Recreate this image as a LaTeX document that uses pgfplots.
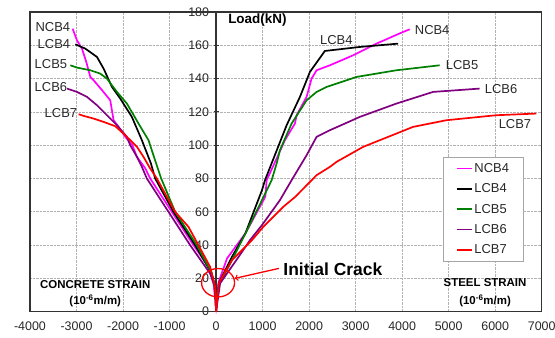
\documentclass[border=0pt]{standalone}
\usepackage{pgfplots}
\pgfplotsset{compat=1.18}
\usepackage{fontspec}
\setmainfont{Liberation Sans}
\definecolor{cMag}{RGB}{255,0,255}
\definecolor{cGreen}{RGB}{0,128,0}
\definecolor{cPurp}{RGB}{128,0,128}
\definecolor{cRed}{RGB}{255,0,0}
\definecolor{cTxt}{RGB}{40,40,40}
\newcommand{\lblfont}{\fontsize{13}{15}\selectfont}
\newcommand{\bfl}{\fontsize{11.5}{13}\selectfont\bfseries}
\begin{document}
\begin{tikzpicture}
\useasboundingbox (-30bp,-26.3bp) rectangle (525bp,311.7bp);
\begin{axis}[
  scale only axis, width=511.7bp, height=299.7bp,
  xmin=-4000, xmax=7000, ymin=0, ymax=180,
  axis x line=bottom, axis y line=middle,
  axis line style={-, line width=1.3bp, color=black!80},
  xtick={-4000,-3000,...,7000}, ytick={0,20,...,180},
  hide obscured x ticks=false, hide obscured y ticks=false,
  xtick style={draw=none},
  ytick style={line width=0.8bp, color=black!80},
  major tick length=5bp,
  grid=major, grid style={densely dotted, gray!60, line width=0.6bp},
  tick label style={font=\fontsize{12.5}{14}\selectfont, text=cTxt},
  /pgf/number format/assume math mode=true,
  /pgf/number format/set thousands separator={},
  xticklabel style={yshift=-4bp},
  yticklabel style={xshift=-1bp},
  every axis plot/.append style={line width=1.7bp},
  legend style={at={(rel axis cs:0.808,0.516)}, anchor=north west,
    draw=gray!70, line width=0.6bp, font=\lblfont, text=cTxt,
    inner xsep=12bp, inner ysep=4bp, row sep=5.8bp, cells={anchor=west}},
  legend image code/.code={\draw[#1, line width=1.7bp] (0bp,0bp) -- (15bp,0bp);},
  clip=false,
]
\draw[line width=1.3bp, black!80] (rel axis cs:0,0) rectangle (rel axis cs:1,1);
% NCB4
\addplot[cMag] coordinates {
(-3084,170) (-2990,163) (-2883,158) (-2790,150) (-2704,141) (-2633,139) (-2450,133) (-2275,127) (-2203,115) (-2096,111) (-1950,105) (-1800,100) (-1702,93) (-1520,86) (-1416,80) (-952,60) (-487,40) (-165,27) (-57,17) (0,3)
(57,18) (236,32) (630,47) (1058,69) (1088,79) (1302,92) (1480,103) (1695,113) (1731,118) (1946,129) (2053,140) (2161,145) (2447,148) (2947,154) (3448,161) (3985,167.6) (4163,169.6)};
\addlegendentry{NCB4}
% LCB4
\addplot[black] coordinates {
(-3026,160.6) (-2811,158) (-2560,153) (-2418,146) (-2238,135) (-2060,128) (-1810,117) (-1595,103) (-1400,89) (-1309,80) (-916,60) (-451,40) (-94,23) (-20,15) (0,0)
(57,17) (343,33) (630,47) (987,73) (1052,79) (1390,103) (1517,112) (1803,129) (2017,144) (2339,156.6) (3090,159) (3912,161)};
\addlegendentry{LCB4}
% LCB5
\addplot[cGreen] coordinates {
(-3133,148) (-2990,146.6) (-2704,145) (-2490,143) (-2346,140) (-2131,132) (-1917,125) (-1667,113) (-1452,103) (-1300,90) (-1180,80) (-880,60) (-415,40) (-94,23) (-15,12) (0,0)
(30,10) (80,17) (343,31) (630,47) (952,65) (1195,79) (1302,89) (1373,97) (1624,113) (1946,127) (2161,132) (2375,135) (3019,141) (3877,145) (4807,148)};
\addlegendentry{LCB5}
% LCB6
\addplot[cPurp] coordinates {
(-3204,134) (-2990,132) (-2775,129) (-2560,124) (-2346,118) (-2131,112) (-1917,105) (-1846,100) (-1700,93) (-1595,87) (-1488,80) (-1023,60) (-558,40) (-129,23) (-21,15) (0,0)
(86,17) (486,33) (730,43) (987,52) (1373,67) (1624,79) (1946,94) (2161,105) (2447,109) (3090,117) (3877,125) (4664,132) (5666,134)};
\addlegendentry{LCB6}
% LCB7
\addplot[cRed] coordinates {
(-2954,118.6) (-2847,117.6) (-2633,116) (-2418,114) (-2167,111.4) (-1953,106) (-1700,99) (-1560,93) (-1416,86) (-1273,80) (-880,60) (-594,51) (-380,40) (-129,27) (-20,15) (0,0)
(57,17) (343,31) (773,43) (1016,51) (1445,63) (1703,69) (2161,82) (2447,87) (2590,90) (3162,99) (4235,111) (4951,115) (6024,118) (6883,119)};
\addlegendentry{LCB7}
% curve labels
\node[anchor=east, font=\lblfont, text=cTxt, inner sep=0pt] at (axis cs:-3133,170.8) {NCB4};
\node[anchor=east, font=\lblfont, text=cTxt, inner sep=0pt] at (axis cs:-3133,161) {LCB4};
\node[anchor=east, font=\lblfont, text=cTxt, inner sep=0pt] at (axis cs:-3198,148.6) {LCB5};
\node[anchor=east, font=\lblfont, text=cTxt, inner sep=0pt] at (axis cs:-3198,134.8) {LCB6};
\node[anchor=east, font=\lblfont, text=cTxt, inner sep=0pt] at (axis cs:-2983,119.2) {LCB7};
\node[anchor=west, font=\lblfont, text=cTxt, inner sep=0pt] at (axis cs:4270,169) {NCB4};
\node[anchor=west, font=\lblfont, text=cTxt, inner sep=0pt] at (axis cs:2232,163) {LCB4};
\node[anchor=west, font=\lblfont, text=cTxt, inner sep=0pt] at (axis cs:4936,148) {LCB5};
\node[anchor=west, font=\lblfont, text=cTxt, inner sep=0pt] at (axis cs:5773,134) {LCB6};
\node[anchor=west, font=\lblfont, text=cTxt, inner sep=0pt] at (axis cs:6073,112.6) {LCB7};
% titles
\node[anchor=west, font=\fontsize{13.5}{15}\selectfont\bfseries, inner sep=0pt] at (axis cs:258,175) {Load(kN)};
\node[font=\bfl, inner sep=0pt] at (axis cs:-2597,16.6) {CONCRETE STRAIN};
\node[font=\bfl, inner sep=0pt] at (axis cs:-2597,6.6) {(10\textsuperscript{-6}m/m)};
\node[font=\bfl, inner sep=0pt] at (axis cs:5783,17.4) {STEEL STRAIN};
\node[font=\bfl, inner sep=0pt] at (axis cs:5783,6.6) {(10\textsuperscript{-6}m/m)};
% initial crack
\draw[cRed, line width=1.3bp] (axis cs:43,17.4) ellipse [x radius=16.5bp, y radius=14.2bp];
\draw[cRed, line width=1.3bp, ->] (axis cs:1350,26) -- (axis cs:400,20);
\node[anchor=west, font=\fontsize{17.5}{20}\selectfont\bfseries, inner sep=0pt] at (axis cs:1444,25.4) {Initial Crack};
\end{axis}
\end{tikzpicture}
\end{document}
